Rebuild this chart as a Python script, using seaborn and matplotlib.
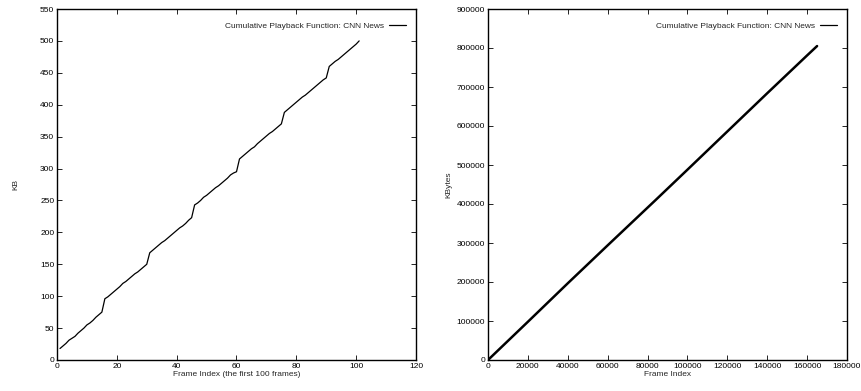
import numpy as np
import pandas as pd
import matplotlib
matplotlib.use("Agg")
import matplotlib.pyplot as plt
import seaborn as sns

# Left panel: first 100 frames (cumulative KB)
frames_first = list(range(1, 102))
kb_first = [18, 22, 26, 31, 34, 37, 42, 46, 50, 55, 58, 62, 67, 71, 75,
            96, 99, 103, 107, 111, 115, 120, 123, 127, 131, 135, 138, 142, 146, 150,
            168, 172, 176, 180, 184, 187, 191, 195, 199, 203, 207, 210, 214, 219, 223,
            243, 246, 250, 255, 258, 262, 266, 270, 273, 277, 281, 285, 290, 293, 295,
            315, 319, 323, 327, 331, 334, 339, 343, 347, 351, 355, 358, 362, 366, 370,
            388, 392, 396, 400, 404, 408, 412, 415, 419, 423, 427, 431, 435, 439, 442,
            460, 464, 468, 471, 475, 479, 483, 487, 491, 495, 500]

# Right panel: whole trace (cumulative KBytes)
frames_all = [0, 10000, 20000, 40000, 60000, 84000, 100000, 120000, 140000, 160000, 165000]
kb_all = [0, 49000, 98000, 196700, 294000, 410000, 488000, 586000, 684000, 781000, 805000]

legend_label = "Cumulative Playback Function: CNN News"

sns.set_theme(style="ticks")
plt.rcParams["font.family"] = ["Liberation Sans", "DejaVu Sans"]
plt.rcParams["font.size"] = 6

fig = plt.figure(figsize=(8.62, 3.91), dpi=100)
ax1 = fig.add_axes([57/862, 31/391, 359/862, 351/391])
ax2 = fig.add_axes([488/862, 31/391, 359/862, 351/391])

df1 = pd.DataFrame({"frame": frames_first, "kb": kb_first})
df2 = pd.DataFrame({"frame": frames_all, "kb": kb_all})

sns.lineplot(data=df1, x="frame", y="kb", ax=ax1, color="black", linewidth=0.9,
             label=legend_label)
sns.lineplot(data=df2, x="frame", y="kb", ax=ax2, color="black", linewidth=1.8,
             label=legend_label)

ax1.set_xlim(0, 120)
ax1.set_ylim(0, 550)
ax1.set_xticks(range(0, 121, 20))
ax1.set_yticks(range(0, 551, 50))
ax1.set_xlabel("Frame Index (the first 100 frames)", fontsize=6, labelpad=1)
ax1.set_ylabel("KB", fontsize=6, labelpad=15)

ax2.set_xlim(0, 180000)
ax2.set_ylim(0, 900000)
ax2.set_xticks(range(0, 180001, 20000))
ax2.set_yticks(range(0, 900001, 100000))
ax2.set_xlabel("Frame Index", fontsize=6, labelpad=1)
ax2.set_ylabel("KBytes", fontsize=6, labelpad=3)

for ax in (ax1, ax2):
    for s in ax.spines.values():
        s.set_visible(True)
        s.set_linewidth(1.0)
        s.set_color("black")
    ax.tick_params(direction="in", length=3.5, width=0.6, top=True, right=True,
                   labelsize=6, pad=2, colors="black")
    leg = ax.legend(loc="upper right", bbox_to_anchor=(1.0, 0.993), frameon=False,
                    markerfirst=False, fontsize=6, handlelength=2.0,
                    handletextpad=0.6, borderaxespad=0.85)
    for h in leg.get_lines():
        h.set_linewidth(0.9)

fig.savefig("out.png", dpi=100)
